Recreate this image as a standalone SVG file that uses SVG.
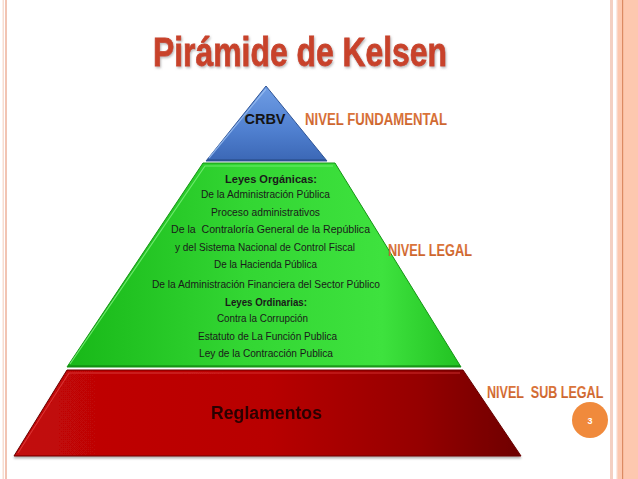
<svg xmlns="http://www.w3.org/2000/svg" width="638" height="479" viewBox="0 0 638 479">
  <defs>
    <linearGradient id="gBlue" x1="0" y1="0" x2="0" y2="1">
      <stop offset="0" stop-color="#6f9de4"/>
      <stop offset="0.6" stop-color="#4f7fcf"/>
      <stop offset="1" stop-color="#3b67b5"/>
    </linearGradient>
    <linearGradient id="gGreen" x1="0" y1="0" x2="1" y2="0">
      <stop offset="0" stop-color="#18b818"/>
      <stop offset="0.45" stop-color="#33d633"/>
      <stop offset="0.8" stop-color="#3ee23e"/>
      <stop offset="1" stop-color="#22c222"/>
    </linearGradient>
    <linearGradient id="gRed" x1="0" y1="0" x2="1" y2="0">
      <stop offset="0" stop-color="#c20808"/>
      <stop offset="0.5" stop-color="#b80202"/>
      <stop offset="0.8" stop-color="#950000"/>
      <stop offset="1" stop-color="#6e0000"/>
    </linearGradient>
    <linearGradient id="gLabel" x1="0" y1="0" x2="0" y2="1">
      <stop offset="0" stop-color="#e07a40"/>
      <stop offset="1" stop-color="#c8602a"/>
    </linearGradient>
    <filter id="shadow" x="-10%" y="-20%" width="120%" height="150%">
      <feDropShadow dx="1" dy="1.5" stdDeviation="0.8" flood-color="#888" flood-opacity="0.6"/>
    </filter>
    <filter id="soft" x="-5%" y="-5%" width="110%" height="115%">
      <feDropShadow dx="0" dy="2" stdDeviation="1.2" flood-color="#000" flood-opacity="0.3"/>
    </filter>
  </defs>
  <style>
    .lvl { font-family: "Liberation Sans", Arial, sans-serif; font-weight: bold; font-size: 17px; fill: url(#gLabel); white-space: pre; }
    .gt { font-family: "Liberation Sans", Arial, sans-serif; font-size: 11px; fill: #1a1a1a; text-anchor: start; }
    .gb { font-weight: bold; }
  </style>

  <rect width="638" height="479" fill="#ffffff"/>

  <!-- page borders -->
  <g id="borders">
    <rect x="2.5" y="0" width="1.5" height="479" fill="#f7ddd1"/>
    <rect x="5" y="0" width="2" height="479" fill="#f2c4b3"/>
    <rect x="610" y="0" width="3" height="479" fill="#f4d0c2"/>
    <rect x="616.5" y="0" width="0.8" height="479" fill="#f6d8cc"/>
    <rect x="617.3" y="0" width="20.7" height="479" fill="#fdc8af"/>
    <rect x="622" y="0" width="1.2" height="479" fill="#dc8a62"/>
  </g>

  <!-- title -->
  <g id="title">
    <text x="153" y="66" font-family="'Liberation Sans', Arial, sans-serif" font-weight="bold" font-size="40" fill="#c8432c" stroke="#c8432c" stroke-width="0.8" textLength="294" lengthAdjust="spacingAndGlyphs" filter="url(#shadow)">Pirámide de Kelsen</text>
  </g>

  <!-- sub legal level -->
  <g id="nivel-sublegal" filter="url(#soft)">
    <polygon points="67,370 463,370 521,456 14,456" fill="url(#gRed)" stroke="#6a0000" stroke-width="1"/>
    <polyline points="18,453 69,373 460,373" fill="none" stroke="#e24444" stroke-width="1.2" opacity="0.7"/>
    <text x="211" y="419" font-family="'Liberation Sans', Arial, sans-serif" font-weight="bold" font-size="18" fill="#2a0606" textLength="111" lengthAdjust="spacingAndGlyphs">Reglamentos</text>
  </g>

  <!-- legal level -->
  <g id="nivel-legal">
    <polygon points="203,163 335,163 461,367 67,367" fill="url(#gGreen)" stroke="#149414" stroke-width="1"/>
    <polyline points="70,364 205,166 333,166" fill="none" stroke="#7cf07c" stroke-width="1.2" opacity="0.8"/>
    <line x1="68" y1="366" x2="460" y2="366" stroke="#0f7a0f" stroke-width="1.2"/>
    <text class="gt gb" x="225" y="183" textLength="92" lengthAdjust="spacingAndGlyphs">Leyes Orgánicas:</text>
    <text class="gt" x="201" y="198" textLength="129" lengthAdjust="spacingAndGlyphs">De la Administración Pública</text>
    <text class="gt" x="211" y="216" textLength="109" lengthAdjust="spacingAndGlyphs">Proceso administrativos</text>
    <text class="gt" x="171" y="233" textLength="199" lengthAdjust="spacingAndGlyphs" style="white-space:pre">De la  Contraloría General de la República</text>
    <text class="gt" x="175" y="251" textLength="180" lengthAdjust="spacingAndGlyphs">y del Sistema Nacional de Control Fiscal</text>
    <text class="gt" x="214" y="268" textLength="103" lengthAdjust="spacingAndGlyphs">De la Hacienda Pública</text>
    <text class="gt" x="152" y="288" textLength="228" lengthAdjust="spacingAndGlyphs">De la Administración Financiera del Sector Público</text>
    <text class="gt gb" x="225" y="306" textLength="82" lengthAdjust="spacingAndGlyphs">Leyes Ordinarias:</text>
    <text class="gt" x="217" y="322" textLength="91" lengthAdjust="spacingAndGlyphs">Contra la Corrupción</text>
    <text class="gt" x="198" y="340" textLength="139" lengthAdjust="spacingAndGlyphs">Estatuto de La Función Publica</text>
    <text class="gt" x="199" y="357" textLength="134" lengthAdjust="spacingAndGlyphs">Ley de la Contracción Publica</text>
  </g>

  <!-- fundamental level -->
  <g id="nivel-fundamental">
    <polygon points="266,86 206,161 327,161" fill="url(#gBlue)" stroke="#2f5597" stroke-width="1"/>
    <polyline points="209,158 266,89" fill="none" stroke="#9cc0f2" stroke-width="1.2" opacity="0.8"/>
    <line x1="207" y1="160" x2="326" y2="160" stroke="#24477f" stroke-width="1.2"/>
    <text x="265" y="124" text-anchor="middle" font-family="'Liberation Sans', Arial, sans-serif" font-weight="bold" font-size="14.5" fill="#141414">CRBV</text>
  </g>

  <!-- level labels -->
  <g id="labels">
    <text class="lvl" transform="translate(305,125) scale(0.775,1)">NIVEL FUNDAMENTAL</text>
    <text class="lvl" transform="translate(388,256) scale(0.75,1)">NIVEL LEGAL</text>
    <text class="lvl" transform="translate(487,398) scale(0.74,1)">NIVEL  SUB LEGAL</text>
  </g>

  <!-- page number -->
  <g id="page-number">
    <circle cx="590" cy="420" r="18" fill="#f08a3c"/>
    <text x="590" y="423.5" text-anchor="middle" font-family="'Liberation Sans', Arial, sans-serif" font-weight="bold" font-size="9" fill="#ffffff">3</text>
  </g>
</svg>
